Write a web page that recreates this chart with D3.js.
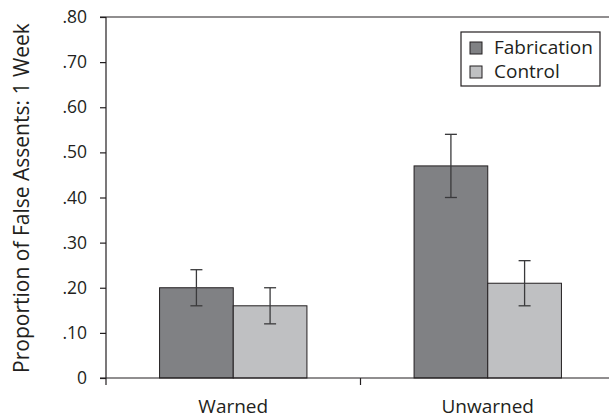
<!DOCTYPE html>
<html lang="en">
<head>
    <meta charset="UTF-8">
    <title>False assents</title>
    <script src="https://d3js.org/d3.v7.min.js"></script>
    <style>
        body {
            margin: 0;
            padding: 0;
            background: #fff;
            font-family: 'Open Sans', 'Noto Sans', sans-serif;
        }
        svg text {
            fill: #231f20;
        }
    </style>
</head>
<body>
    <div id="chart"></div>
    <script>
        // values
        var groups = ["Warned", "Unwarned"];
        var series = ["Fabrication", "Control"];
        var fabrication = [0.20, 0.47];
        var control = [0.16, 0.21];
        var fabricationErr = [0.04, 0.07];
        var controlErr = [0.04, 0.05];
        var yTicks = [0, 0.1, 0.2, 0.3, 0.4, 0.5, 0.6, 0.7, 0.8];

        var width = 609, height = 419;
        var colors = {"Fabrication": "#808184", "Control": "#bfc0c2"};
        var ink = "#231f20";

        var data = groups.map(function(g, i) {
            return {
                group: g,
                values: [
                    {key: "Fabrication", v: fabrication[i], e: fabricationErr[i]},
                    {key: "Control", v: control[i], e: controlErr[i]}
                ]
            };
        });

        var svg = d3.select("#chart").append("svg")
            .attr("width", width)
            .attr("height", height);

        var x = d3.scaleBand()
            .domain(groups)
            .range([106, 615])
            .paddingInner(0)
            .paddingOuter(0);

        var x1 = d3.scaleBand()
            .domain(series)
            .range([0, x.bandwidth()])
            .paddingInner(0)
            .paddingOuter(0.727);

        var y = d3.scaleLinear()
            .domain([0, 0.8])
            .range([378, 17]);

        // top line at .80
        svg.append("line")
            .attr("x1", 100).attr("x2", width)
            .attr("y1", y(0.8)).attr("y2", y(0.8))
            .style("stroke", ink)
            .style("stroke-width", 1.2);

        // bars
        var g = svg.selectAll(".group")
            .data(data)
            .enter()
            .append("g")
            .attr("class", "group")
            .attr("transform", function(d) { return "translate(" + x(d.group) + ",0)"; });

        g.selectAll("rect")
            .data(function(d) { return d.values; })
            .enter()
            .append("rect")
            .attr("x", function(d) { return x1(d.key); })
            .attr("y", function(d) { return y(d.v); })
            .attr("width", x1.bandwidth())
            .attr("height", function(d) { return y(0) - y(d.v); })
            .style("fill", function(d) { return colors[d.key]; })
            .style("stroke", ink)
            .style("stroke-width", 1);

        // error bars
        var err = g.selectAll(".err")
            .data(function(d) { return d.values; })
            .enter()
            .append("g")
            .attr("class", "err")
            .attr("transform", function(d) { return "translate(" + (x1(d.key) + x1.bandwidth() / 2) + ",0)"; })
            .style("stroke", "#3a3a3c")
            .style("stroke-width", 1.3);

        err.append("line")
            .attr("y1", function(d) { return y(d.v + d.e); })
            .attr("y2", function(d) { return y(d.v - d.e); });
        err.append("line")
            .attr("x1", -6).attr("x2", 6)
            .attr("y1", function(d) { return y(d.v + d.e); })
            .attr("y2", function(d) { return y(d.v + d.e); });
        err.append("line")
            .attr("x1", -6).attr("x2", 6)
            .attr("y1", function(d) { return y(d.v - d.e); })
            .attr("y2", function(d) { return y(d.v - d.e); });

        // y axis
        var yAxis = d3.axisLeft(y)
            .tickValues(yTicks)
            .tickSize(6)
            .tickPadding(13)
            .tickFormat(function(d) { return d === 0 ? "0" : d3.format(".2f")(d).replace(/^0/, ""); });

        var ya = svg.append("g")
            .attr("transform", "translate(106,0)")
            .call(yAxis);
        ya.select(".domain").remove();
        ya.selectAll("line").style("stroke", ink).style("stroke-width", 1.2);
        ya.selectAll("text")
            .style("font-family", "'Open Sans', sans-serif")
            .style("font-size", "17.5px")
            .style("fill", ink);

        svg.append("line")
            .attr("x1", 106).attr("x2", 106)
            .attr("y1", y(0.8)).attr("y2", y(0) + 7)
            .style("stroke", ink)
            .style("stroke-width", 1.2);

        // x axis
        svg.append("line")
            .attr("x1", 100).attr("x2", width)
            .attr("y1", y(0)).attr("y2", y(0))
            .style("stroke", ink)
            .style("stroke-width", 1.2);

        // boundary ticks between categories
        svg.selectAll(".xtick")
            .data(groups.slice(1))
            .enter()
            .append("line")
            .attr("class", "xtick")
            .attr("x1", function(d) { return x(d); })
            .attr("x2", function(d) { return x(d); })
            .attr("y1", y(0)).attr("y2", y(0) + 7)
            .style("stroke", ink)
            .style("stroke-width", 1.2);

        svg.selectAll(".xlabel")
            .data(groups)
            .enter()
            .append("text")
            .attr("class", "xlabel")
            .attr("x", function(d) { return x(d) + x.bandwidth() / 2; })
            .attr("y", 413)
            .attr("text-anchor", "middle")
            .style("font-size", "19px")
            .text(function(d) { return d; });

        // y axis title
        svg.append("text")
            .attr("transform", "translate(29," + ((y(0) + y(0.8)) / 2 + 0.5) + ") rotate(-90)")
            .attr("text-anchor", "middle")
            .style("font-size", "21px")
            .text("Proportion of False Assents: 1 Week");

        // legend
        var legend = svg.append("g")
            .attr("transform", "translate(461,32)");

        legend.append("rect")
            .attr("width", 139)
            .attr("height", 54)
            .style("fill", "#fff")
            .style("stroke", ink)
            .style("stroke-width", 1.2);

        var items = legend.selectAll(".legend-item")
            .data(series)
            .enter()
            .append("g")
            .attr("class", "legend-item")
            .attr("transform", function(d, i) { return "translate(9," + (10 + i * 24) + ")"; });

        items.append("rect")
            .attr("width", 12)
            .attr("height", 12)
            .style("fill", function(d) { return colors[d]; })
            .style("stroke", ink)
            .style("stroke-width", 1);

        items.append("text")
            .attr("x", 24)
            .attr("y", 12)
            .style("font-size", "19px")
            .text(function(d) { return d; });
    </script>
</body>
</html>
